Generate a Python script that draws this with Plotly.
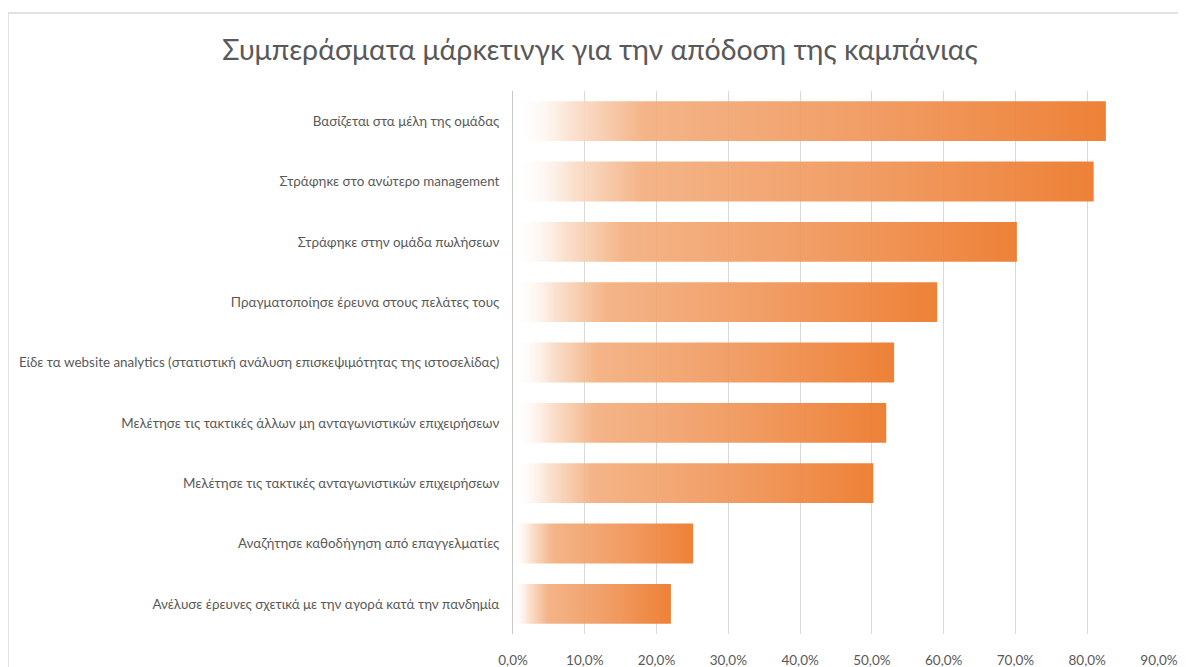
import plotly.graph_objects as go

categories = [
    "Βασίζεται στα μέλη της ομάδας",
    "Στράφηκε στο ανώτερο management",
    "Στράφηκε στην ομάδα πωλήσεων",
    "Πραγματοποίησε έρευνα στους πελάτες τους",
    "Είδε τα website analytics (στατιστική ανάλυση επισκεψιμότητας της ιστοσελίδας)",
    "Μελέτησε τις τακτικές άλλων μη ανταγωνιστικών επιχειρήσεων",
    "Μελέτησε τις τακτικές ανταγωνιστικών επιχειρήσεων",
    "Αναζήτησε καθοδήγηση από επαγγελματίες",
    "Ανέλυσε έρευνες σχετικά με την αγορά κατά την πανδημία",
]
values = [0.826, 0.809, 0.702, 0.591, 0.531, 0.520, 0.502, 0.251, 0.220]
x_ticks = [0.0, 0.1, 0.2, 0.3, 0.4, 0.5, 0.6, 0.7, 0.8, 0.9]
title_text = "Συμπεράσματα μάρκετινγκ για την απόδοση της καμπάνιας"

FONT = "Lato"
GREY = "#595959"
BAR_HALF = 0.33

gradient = [
    [0.0, "rgba(255,255,255,0.0)"],
    [0.1, "rgba(250,222,203,0.9)"],
    [0.22, "rgba(243,174,126,0.92)"],
    [0.6, "rgba(240,150,90,0.93)"],
    [1.0, "rgba(237,125,49,0.97)"],
]

# the page body adds an 8px offset; margins are compensated for it
OFF = 8
L, R_EDGE, T, B_EDGE = 513 - OFF, 1159 - OFF, 91 - OFF, 634 - OFF
W, H = 1186, 667
PW, PH = R_EDGE - L, B_EDGE - T

n = len(categories)
fig = go.Figure()
for i, (cat, v) in enumerate(zip(categories, values)):
    pos = n - 1 - i
    fig.add_trace(go.Scatter(
        x=[0, v, v, 0, 0],
        y=[pos - BAR_HALF, pos - BAR_HALF, pos + BAR_HALF, pos + BAR_HALF, pos - BAR_HALF],
        mode="none",
        fill="toself",
        fillgradient=dict(type="horizontal", colorscale=gradient),
        name=cat,
        hoverinfo="skip",
        showlegend=False,
    ))

fig.update_layout(
    width=W,
    height=H,
    margin=dict(l=L, r=W - R_EDGE, t=T, b=H - B_EDGE, autoexpand=False),
    paper_bgcolor="white",
    plot_bgcolor="white",
    separators=",.",
    title=dict(
        text=title_text,
        font=dict(family=FONT, size=28.5, color=GREY, weight=400),
        x=(600 - OFF) / W, xref="container", xanchor="center",
        y=1 - (50 - OFF) / H, yref="container", yanchor="middle",
    ),
    xaxis=dict(
        range=[0, 0.9],
        tickvals=x_ticks,
        tickformat=".1%",
        showgrid=True,
        gridcolor="#d9d9d9",
        gridwidth=1,
        zeroline=False,
        showline=False,
        ticks="outside",
        ticklen=14,
        tickcolor="rgba(0,0,0,0)",
        tickfont=dict(family=FONT, size=13.5, color=GREY),
        automargin=False,
        fixedrange=True,
    ),
    yaxis=dict(
        range=[-0.5, n - 0.5],
        tickvals=[n - 1 - i for i in range(n)],
        ticktext=categories,
        showgrid=False,
        zeroline=False,
        showline=True,
        linecolor="#c8c8c8",
        linewidth=1,
        ticks="outside",
        ticklen=10,
        tickcolor="rgba(0,0,0,0)",
        tickfont=dict(family=FONT, size=13.4, color=GREY),
        automargin=False,
        fixedrange=True,
    ),
    shapes=[dict(
        type="rect", xref="paper", yref="paper",
        x0=(0 - L) / PW, x1=1.3, y0=-0.3, y1=(B_EDGE - (13 - OFF)) / PH,
        line=dict(color="#d9d9d9", width=1.5),
        fillcolor="rgba(0,0,0,0)",
        layer="below",
    )],
)

fig.write_html("out.html")
